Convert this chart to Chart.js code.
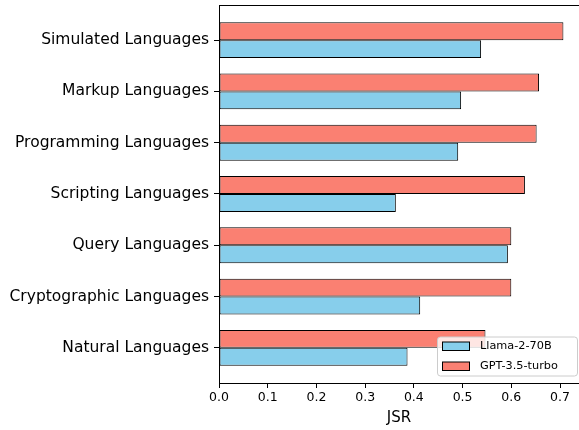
<!DOCTYPE html>
<html>
<head>
<meta charset="utf-8">
<script src="https://cdn.jsdelivr.net/npm/chart.js@4"></script>
<style>
  html, body { margin: 0; padding: 0; background: #fff; }
  canvas { display: block; }
</style>
</head>
<body>
<canvas id="jsrChart" width="579" height="430"></canvas>
<script>
// categories listed top to bottom, as in the picture
const categories = [
    'Simulated Languages',
    'Markup Languages',
    'Programming Languages',
    'Scripting Languages',
    'Query Languages',
    'Cryptographic Languages',
    'Natural Languages'
];
const llamaValues = [0.538, 0.497, 0.491, 0.363, 0.593, 0.413, 0.387];
const gptValues = [0.707, 0.657, 0.652, 0.628, 0.600, 0.600, 0.547];
const xTicks = [0.0, 0.1, 0.2, 0.3, 0.4, 0.5, 0.6, 0.7];
const seriesNames = ['Llama-2-70B', 'GPT-3.5-turbo'];

const FONT = "'DejaVu Sans', sans-serif";

// y position of a category: last one sits at 0, first one on top
function rowOf(i) { return categories.length - 1 - i; }
function toPoints(values) {
    return values.map(function (v, i) { return { x: v, y: rowOf(i) }; });
}

// top spine (matplotlib draws a full box; right side falls off the canvas)
const topSpine = {
    id: 'topSpine',
    afterDraw: function (chart) {
        const a = chart.chartArea, c = chart.ctx;
        c.save();
        c.strokeStyle = '#000';
        c.lineWidth = 1;
        c.beginPath();
        c.moveTo(a.left, a.top + 0.5);
        c.lineTo(a.right, a.top + 0.5);
        c.stroke();
        c.restore();
    }
};

// legend drawn inside the plot, lower right
const innerLegend = {
    id: 'innerLegend',
    afterDraw: function (chart) {
        const a = chart.chartArea, c = chart.ctx;
        const w = 140, h = 39;
        const x0 = a.right - 2 - w, y0 = a.bottom - 7.5 - h;
        c.save();
        c.beginPath();
        c.roundRect(x0 + 0.5, y0 + 0.5, w, h, 3);
        c.fillStyle = 'rgba(255,255,255,0.8)';
        c.fill();
        c.strokeStyle = '#cccccc';
        c.lineWidth = 1;
        c.stroke();
        // Llama listed first, GPT second
        const order = [1, 0];
        order.forEach(function (di, row) {
            const ds = chart.data.datasets[di];
            const py = y0 + 5.5 + row * 20;
            c.fillStyle = ds.backgroundColor;
            c.fillRect(x0 + 5.5, py, 27, 8.5);
            c.strokeStyle = '#000';
            c.lineWidth = 1;
            c.strokeRect(x0 + 5.5, py, 27, 8.5);
            c.fillStyle = '#000';
            c.font = '11.3px ' + FONT;
            c.textBaseline = 'middle';
            c.textAlign = 'left';
            c.fillText(ds.label, x0 + 43, py + 4.5);
        });
        c.restore();
    }
};

const ctx = document.getElementById('jsrChart').getContext('2d');

new Chart(ctx, {
    type: 'bar',
    data: {
        datasets: [{
            label: seriesNames[1],
            data: toPoints(gptValues),
            backgroundColor: '#FA8072',
            borderColor: '#000',
            borderWidth: 1,
            borderSkipped: false
        }, {
            label: seriesNames[0],
            data: toPoints(llamaValues),
            backgroundColor: '#87CEEB',
            borderColor: '#000',
            borderWidth: 1,
            borderSkipped: false
        }]
    },
    options: {
        indexAxis: 'y',
        responsive: false,
        animation: false,
        layout: { padding: { top: 5, right: 0, left: 0, bottom: 0 } },
        datasets: {
            bar: { categoryPercentage: 0.7, barPercentage: 1.0 }
        },
        scales: {
            y: {
                type: 'linear',
                offset: false,
                min: -0.685,
                max: 6.685,
                afterBuildTicks: function (scale) {
                    scale.ticks = categories.map(function (_, i) { return { value: rowOf(i) }; });
                },
                afterFit: function (scale) {
                    scale.width = 219;
                    scale.paddingTop = 0;
                    scale.paddingBottom = 0;
                },
                ticks: {
                    color: '#000',
                    font: { family: FONT, size: 15.5 },
                    padding: 5,
                    autoSkip: false,
                    callback: function (value) {
                        return categories[categories.length - 1 - value];
                    }
                },
                grid: {
                    offset: false,
                    drawOnChartArea: false,
                    drawTicks: true,
                    tickLength: 5,
                    color: '#000'
                },
                border: { display: true, color: '#000', width: 1 }
            },
            x: {
                type: 'linear',
                min: 0,
                max: 0.739,
                afterBuildTicks: function (scale) {
                    scale.ticks = xTicks.map(function (v) { return { value: v }; });
                },
                afterFit: function (scale) {
                    scale.height = 47;
                    scale.paddingLeft = 0;
                    scale.paddingRight = 0;
                },
                ticks: {
                    color: '#000',
                    font: { family: FONT, size: 12.5 },
                    padding: 2,
                    maxRotation: 0,
                    callback: function (value) { return value.toFixed(1); }
                },
                grid: {
                    drawOnChartArea: false,
                    drawTicks: true,
                    tickLength: 5,
                    color: '#000'
                },
                border: { display: true, color: '#000', width: 1 },
                title: {
                    display: true,
                    text: 'JSR',
                    color: '#000',
                    font: { family: FONT, size: 15 },
                    padding: { top: 0, bottom: 3 }
                }
            }
        },
        plugins: {
            legend: { display: false },
            tooltip: { enabled: false }
        }
    },
    plugins: [topSpine, innerLegend]
});
</script>
</body>
</html>
